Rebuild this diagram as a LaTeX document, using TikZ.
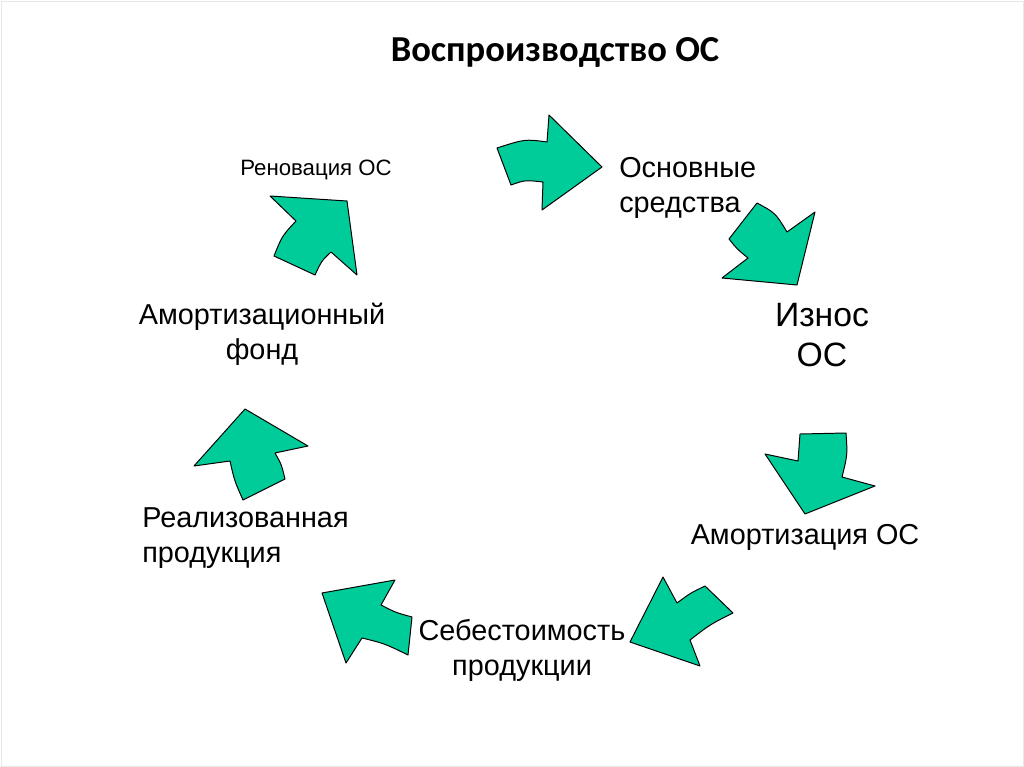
\documentclass[tikz,border=0pt]{standalone}
\usepackage{fontspec}
\setmainfont{Liberation Sans}
\newfontfamily\titlefont{Carlito}
\usepackage{tikz}
\usetikzlibrary{positioning}
\definecolor{arrowgreen}{RGB}{0,204,153}
\definecolor{frameline}{RGB}{232,232,232}
\tikzset{
  blockarrow/.style={draw=black, fill=arrowgreen, line width=0.7pt, line join=round},
  label/.style={inner sep=0pt, font=\fontsize{20.5}{25}\selectfont, align=center},
  biglabel/.style={inner sep=0pt, font=\fontsize{24}{28.5}\selectfont, align=center},
  smalllabel/.style={inner sep=0pt, font=\fontsize{15.8}{19}\selectfont, align=center},
  heading/.style={inner sep=0pt, font=\titlefont\bfseries\fontsize{26}{30}\selectfont}
}
\begin{document}
\begin{tikzpicture}[x=0.025cm, y=-0.025cm]
  % Slide
  \useasboundingbox (0,0) rectangle (1024,767);
  \draw[frameline, line width=0.6pt] (1,1) rectangle (1023,766);

  % Title
  \node[heading] (title) at (555,52) {Воспроизводство ОС};

  % Labels of the cycle
  \node[label, align=left, anchor=west] (fixed) at (619,188) {Основные\\средства};
  \node[biglabel] (wear) at (822,335) {Износ\\ОС};
  \node[label] (depr) at (805,537) {Амортизация ОС};
  \node[label] (cost) at (522,650) {Себестоимость\\продукции};
  \node[label, align=left, anchor=west] (sold) at (142,538) {Реализованная\\продукция};
  \node[label] (fund) at (262,334) {Амортизационный\\фонд};
  \node[smalllabel] (renov) at (316,170) {Реновация ОС};

  % Arrow: renovation -> fixed assets
  \draw[blockarrow] (497,148) .. controls (525,139) .. (547,142) -- (549,115) -- (602,167)
    -- (542,210) -- (543,182) .. controls (525,180) .. (511,185) -- cycle;
  % Arrow: fixed assets -> wear
  \draw[blockarrow] (757,203) .. controls (775.5,213) .. (787,232) -- (815,212) -- (797,285)
    -- (722,278) -- (748,258) .. controls (737,249) .. (729,239) -- cycle;
  % Arrow: wear -> depreciation
  \draw[blockarrow] (800,434) -- (846,433) .. controls (847.5,455) .. (842,477) -- (875,486)
    -- (805,514) -- (765,454) -- (798,461) -- cycle;
  % Arrow: depreciation -> cost
  \draw[blockarrow] (663,577) -- (677,603) .. controls (690.5,593) .. (705,586) -- (733,613)
    .. controls (710,624.5) .. (690,640) -- (700,666) -- (630,642) -- cycle;
  % Arrow: cost -> sold products
  \draw[blockarrow] (322,593) -- (395,580) -- (381,605) .. controls (395.5,612.5) .. (412,617)
    -- (408,655) .. controls (384.5,643.5) .. (362,638) -- (346,663) -- cycle;
  % Arrow: sold products -> fund
  \draw[blockarrow] (245,409) -- (308,446) -- (275,453) .. controls (281.5,464.5) .. (285,479)
    -- (243,500) .. controls (234.5,481) .. (230,461) -- (194,466) -- cycle;
  % Arrow: fund -> renovation
  \draw[blockarrow] (270,196) -- (347,201) -- (357,275) -- (331,252)
    .. controls (321.5,261) .. (315,275) -- (274,256) .. controls (282,236) .. (296,221) -- cycle;
\end{tikzpicture}
\end{document}
